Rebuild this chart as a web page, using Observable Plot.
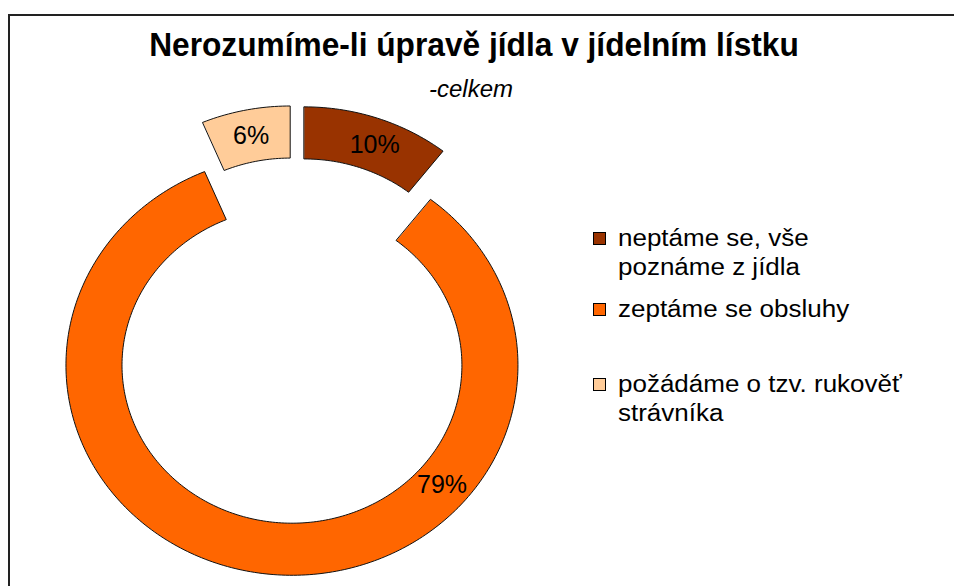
<!DOCTYPE html>
<html>
<head>
<meta charset="utf-8">
<script src="https://cdn.jsdelivr.net/npm/d3@7"></script>
<script src="https://cdn.jsdelivr.net/npm/@observablehq/plot@0.6"></script>
<style>
  html, body { margin: 0; padding: 0; background: #fff; }
  #wrap { position: relative; width: 954px; height: 586px; overflow: hidden; font-family: "Liberation Sans", Arial, sans-serif; }
  #chart { position: absolute; left: 0; top: 0; }
  #frame { position: absolute; left: 8px; top: 14px; width: 980px; height: 620px; border-top: 2px solid #222; border-left: 2px solid #222; pointer-events: none; }
  #title { position: absolute; left: 0; width: 948px; top: 28px; text-align: center; font-weight: bold; font-size: 33px; line-height: 33px; color: #000; white-space: nowrap; transform: scaleX(0.96); transform-origin: 474px 0; }
  #subtitle { position: absolute; left: 0; width: 942px; top: 77px; text-align: center; font-style: italic; font-size: 24px; line-height: 24px; color: #000; }
  .lg-item { position: absolute; left: 618px; font-size: 23px; line-height: 29px; color: #000; white-space: nowrap; transform: scaleX(1.13); transform-origin: 0 0; }
  .lg-sw { position: absolute; left: 593px; width: 11px; height: 11px; border: 1px solid #000; }
</style>
</head>
<body>
<div id="wrap">
  <div id="chart"></div>
  <div id="title">Nerozumíme-li úpravě jídla v jídelním lístku</div>
  <div id="subtitle">-celkem</div>
  <div id="legend"></div>
  <div id="frame"></div>
</div>
<script>
// ---- data ----
const legendLines = [
  ["neptáme se, vše", "poznáme z jídla"],
  ["zeptáme se obsluhy"],
  ["požádáme o tzv. rukověť", "strávníka"]
];
const categories = legendLines.map(l => l.join(" "));
const values = [10, 79, 6];
const valueLabels = ["10%", "79%", "6%"];

// ---- styles / layout ----
const colors = ["#993300", "#FF6600", "#FFCC99"];
const innerRatio = 0.752;   // hole radius / outer radius
const explode = 0.119;      // slice offset (outer radius units)
const labelFrac = [0.55, 0.31, 0.5]; // where along each slice the label sits

const data = categories.map((c, i) => ({cat: c, value: values[i], label: valueLabels[i], i}));
const arcs = d3.pie().sort(null).value(d => d.value)(data);

const poly = [];
const labels = [];
const labelR = (1 + innerRatio) / 2;
for (const a of arcs) {
  const mid = (a.startAngle + a.endAngle) / 2;
  const dx = explode * Math.sin(mid), dy = explode * Math.cos(mid);
  const n = Math.max(6, Math.ceil((a.endAngle - a.startAngle) / (Math.PI / 180)));
  for (let k = 0; k <= n; k++) {
    const t = a.startAngle + (a.endAngle - a.startAngle) * k / n;
    poly.push({cat: a.data.cat, x: dx + Math.sin(t), y: dy + Math.cos(t)});
  }
  for (let k = n; k >= 0; k--) {
    const t = a.startAngle + (a.endAngle - a.startAngle) * k / n;
    poly.push({cat: a.data.cat, x: dx + innerRatio * Math.sin(t), y: dy + innerRatio * Math.cos(t)});
  }
  const la = a.startAngle + (a.endAngle - a.startAngle) * labelFrac[a.data.i];
  labels.push({x: dx + labelR * Math.sin(la), y: dy + labelR * Math.cos(la), text: a.data.label});
}

const chart = Plot.plot({
  width: 954,
  height: 586,
  margin: 0,
  style: {background: "transparent"},
  x: {domain: [-1.3053, 2.9159], axis: null},
  y: {domain: [-1.1714, 1.6190], axis: null},
  color: {domain: categories, range: colors},
  marks: [
    Plot.line(poly, {x: "x", y: "y", z: "cat", fill: "cat", stroke: "#111", strokeWidth: 1, curve: "linear-closed"}),
    Plot.text(labels, {x: "x", y: "y", text: "text", fontSize: 25, fill: "#000", fontFamily: "Liberation Sans, Arial, sans-serif"})
  ]
});
document.getElementById("chart").appendChild(chart);

// ---- legend ----
const legend = document.getElementById("legend");
const itemTops = [224, 295, 370];
legendLines.forEach((lines, i) => {
  const sw = document.createElement("div");
  sw.className = "lg-sw";
  sw.style.top = (itemTops[i] + 8) + "px";
  sw.style.background = colors[i];
  legend.appendChild(sw);
  const it = document.createElement("div");
  it.className = "lg-item";
  it.style.top = itemTops[i] + "px";
  it.innerHTML = lines.join("<br>");
  legend.appendChild(it);
});
</script>
</body>
</html>
